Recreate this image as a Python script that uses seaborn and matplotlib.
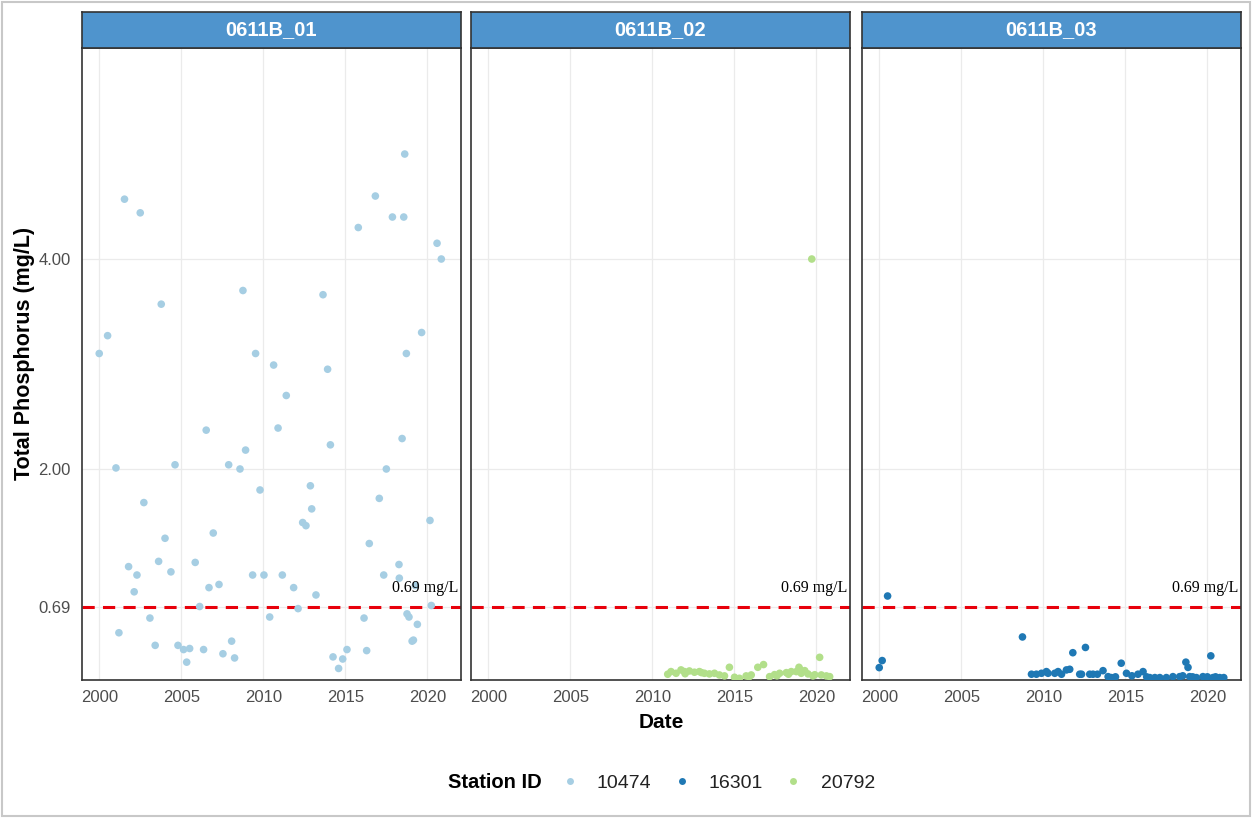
import numpy as np
import pandas as pd
import seaborn as sns
import matplotlib
matplotlib.use("Agg")
import matplotlib.pyplot as plt
from matplotlib.patches import Rectangle
from matplotlib.lines import Line2D
import matplotlib.transforms as mtransforms

# ---- data -------------------------------------------------------------
facets = ["0611B_01", "0611B_02", "0611B_03"]
stations = ["10474", "16301", "20792"]
facet_station = {"0611B_01": "10474", "0611B_02": "20792", "0611B_03": "16301"}
station_colors = ["#a6cee3", "#1f78b4", "#b2df8a"]

years_10474 = [2000.00, 2000.51, 2001.02, 2001.20, 2001.54, 2001.79, 2002.13, 2002.30,
               2002.50, 2002.72, 2003.09, 2003.41, 2003.62, 2003.78, 2004.01, 2004.37,
               2004.62, 2004.80, 2005.14, 2005.33, 2005.51, 2005.85, 2006.12, 2006.36,
               2006.52, 2006.69, 2006.95, 2007.30, 2007.54, 2007.89, 2008.07, 2008.25,
               2008.58, 2008.76, 2008.92, 2009.35, 2009.53, 2009.80, 2010.04, 2010.39,
               2010.63, 2010.90, 2011.16, 2011.40, 2011.85, 2012.12, 2012.40, 2012.60,
               2012.87, 2012.95, 2013.21, 2013.64, 2013.92, 2014.09, 2014.25, 2014.59,
               2014.84, 2015.10, 2015.79, 2016.14, 2016.30, 2016.46, 2016.83, 2017.07,
               2017.34, 2017.50, 2017.87, 2018.27, 2018.29, 2018.46, 2018.56, 2018.62,
               2018.72, 2018.76, 2018.88, 2019.07, 2019.15, 2019.27, 2019.39, 2019.65,
               2020.16, 2020.24, 2020.59, 2020.85]
tp_10474 = [3.10, 3.27, 2.01, 0.44, 4.57, 1.07, 0.83, 0.99,
            4.44, 1.68, 0.58, 0.32, 1.12, 3.57, 1.34, 1.02,
            2.04, 0.32, 0.28, 0.16, 0.29, 1.11, 0.69, 0.28,
            2.37, 0.87, 1.39, 0.90, 0.24, 2.04, 0.36, 0.20,
            2.00, 3.70, 2.18, 0.99, 3.10, 1.80, 0.99, 0.59,
            2.99, 2.39, 0.99, 2.70, 0.87, 0.67, 1.49, 1.46,
            1.84, 1.62, 0.80, 3.66, 2.95, 2.23, 0.21, 0.10,
            0.19, 0.28, 4.30, 0.58, 0.27, 1.29, 4.60, 1.72,
            0.99, 2.00, 4.40, 1.09, 0.96, 2.29, 4.40, 5.00,
            3.10, 0.62, 0.59, 0.36, 0.37, 0.89, 0.52, 3.30,
            1.51, 0.70, 4.15, 4.00]

years_20792 = [2010.94, 2011.14, 2011.45, 2011.75, 2011.96, 2012.00, 2012.26, 2012.57,
               2012.87, 2013.00, 2013.18, 2013.48, 2013.79, 2014.09, 2014.40, 2014.70,
               2015.01, 2015.31, 2015.72, 2015.90, 2016.03, 2016.43, 2016.78, 2017.15,
               2017.45, 2017.60, 2017.76, 2018.17, 2018.30, 2018.47, 2018.78, 2018.94,
               2019.00, 2019.08, 2019.29, 2019.49, 2019.72, 2019.79, 2019.90, 2020.20,
               2020.30, 2020.61, 2020.81]
tp_20792 = [0.045, 0.070, 0.054, 0.086, 0.070, 0.050, 0.076, 0.064,
            0.070, 0.060, 0.054, 0.048, 0.054, 0.038, 0.029, 0.111,
            0.016, 0.006, 0.029, 0.020, 0.038, 0.111, 0.137, 0.022,
            0.041, 0.030, 0.054, 0.060, 0.045, 0.070, 0.070, 0.111,
            0.090, 0.054, 0.079, 0.048, 4.000, 0.029, 0.040, 0.206,
            0.038, 0.029, 0.022]

years_16301 = [2000.00, 2000.18, 2000.51, 2008.73, 2009.28, 2009.58, 2009.89, 2010.19,
               2010.29, 2010.70, 2010.90, 2011.11, 2011.41, 2011.61, 2011.80, 2012.22,
               2012.33, 2012.57, 2012.83, 2013.03, 2013.30, 2013.64, 2013.95, 2014.15,
               2014.40, 2014.75, 2015.07, 2015.40, 2015.77, 2016.08, 2016.30, 2016.49,
               2016.80, 2017.10, 2017.50, 2017.90, 2018.31, 2018.50, 2018.69, 2018.82,
               2018.92, 2019.10, 2019.33, 2019.73, 2020.00, 2020.21, 2020.34, 2020.50,
               2020.75, 2021.00]
tp_16301 = [0.108, 0.175, 0.790, 0.400, 0.045, 0.045, 0.054, 0.070,
            0.054, 0.054, 0.070, 0.045, 0.086, 0.092, 0.250, 0.045,
            0.045, 0.300, 0.045, 0.045, 0.045, 0.079, 0.022, 0.013,
            0.020, 0.150, 0.054, 0.030, 0.045, 0.070, 0.020, 0.013,
            0.013, 0.013, 0.013, 0.022, 0.022, 0.030, 0.160, 0.110,
            0.022, 0.020, 0.013, 0.022, 0.020, 0.220, 0.013, 0.020,
            0.013, 0.013]

threshold = 0.69
threshold_label = "0.69 mg/L"
y_ticks = [0.69, 2.00, 4.00]
y_tick_labels = ["0.69", "2.00", "4.00"]
x_ticks = [2000, 2005, 2010, 2015, 2020]

df = pd.concat([
    pd.DataFrame({"year": years_10474, "tp": tp_10474, "station": "10474"}),
    pd.DataFrame({"year": years_16301, "tp": tp_16301, "station": "16301"}),
    pd.DataFrame({"year": years_20792, "tp": tp_20792, "station": "20792"}),
], ignore_index=True)
palette = dict(zip(stations, station_colors))

# ---- style ------------------------------------------------------------
sns.set_theme(style="white")
plt.rcParams["font.family"] = ["Liberation Sans", "DejaVu Sans"]

W, H = 1252, 818
fig = plt.figure(figsize=(W / 100, H / 100), dpi=100)
fig.patch.set_facecolor("white")

panel_left = [82, 471, 862]
panel_w = 379
panel_top, panel_bottom = 48, 680
strip_top = 12

xlim = (1998.95, 2022.05)
ylim = (-0.01, 6.01)
border_col = "#333333"

for i, facet in enumerate(facets):
    ax = fig.add_axes([panel_left[i] / W, 1 - panel_bottom / H,
                       panel_w / W, (panel_bottom - panel_top) / H])
    sub = df[df["station"] == facet_station[facet]]
    ax.set_xlim(*xlim)
    ax.set_ylim(*ylim)
    ax.set_xticks(x_ticks)
    ax.set_yticks(y_ticks)
    ax.grid(True, color="#ebebeb", linewidth=0.9)
    ax.set_axisbelow(True)
    ax.axhline(threshold, color="#e8000b", linestyle=(0, (4, 2.7)),
               linewidth=2.2, zorder=2)
    sns.scatterplot(data=sub, x="year", y="tp", hue="station", palette=palette,
                    s=30, linewidth=0, legend=False, ax=ax, zorder=3)
    trans = mtransforms.blended_transform_factory(ax.transAxes, ax.transData)
    ax.text(0.993, 0.87, threshold_label, transform=trans, ha="right", va="center",
            fontsize=11.5, family=["Liberation Serif", "DejaVu Serif"], color="black")
    ax.set_xlabel("")
    ax.set_ylabel("")
    ax.tick_params(axis="both", length=0, labelsize=12, labelcolor="#4d4d4d")
    ax.tick_params(axis="x", pad=7)
    ax.tick_params(axis="y", pad=8)
    ax.set_xticklabels([str(t) for t in x_ticks])
    if i == 0:
        ax.set_yticklabels(y_tick_labels)
    else:
        ax.set_yticklabels([])
    for sp in ax.spines.values():
        sp.set_color(border_col)
        sp.set_linewidth(1.2)

    # strip with facet name
    sax = fig.add_axes([panel_left[i] / W, 1 - panel_top / H,
                        panel_w / W, (panel_top - strip_top) / H])
    sax.set_facecolor("#4f94cd")
    sax.set_xticks([])
    sax.set_yticks([])
    for sp in sax.spines.values():
        sp.set_color(border_col)
        sp.set_linewidth(1.2)
    sax.text(0.5, 0.5, facet, ha="center", va="center", color="white",
             fontsize=14.5, fontweight="bold", transform=sax.transAxes)

# axis titles
fig.text((82 + 1240) / 2 / W, 1 - 723 / H, "Date", ha="center", va="center",
         fontsize=15, fontweight="bold", color="black")
fig.text(25 / W, 1 - 353 / H, "Total Phosphorus (mg/L)", ha="center", va="center",
         rotation=90, fontsize=15.5, fontweight="bold", color="black")

# legend
legend_y = 1 - 783 / H
fig.text(448 / W, legend_y, "Station ID", ha="left", va="center",
         fontsize=14.5, fontweight="bold", color="black")
handles = [Line2D([], [], linestyle="none", marker="o", markersize=5,
                  markerfacecolor=c, markeredgewidth=0) for c in station_colors]
fig.legend(handles, stations, loc="center left",
           bbox_to_anchor=(560 / W, legend_y), ncol=3, frameon=False,
           fontsize=14, handlelength=1.0, handletextpad=0.9,
           columnspacing=1.05, borderpad=0, borderaxespad=0,
           labelcolor="#222222")

# outer frame
fig.add_artist(Rectangle((2 / W, 2 / H), (W - 4) / W, (H - 4) / H,
                         transform=fig.transFigure, fill=False,
                         edgecolor="#c8c8c8", linewidth=1.5))

fig.savefig("out.png", dpi=100, facecolor="white")
